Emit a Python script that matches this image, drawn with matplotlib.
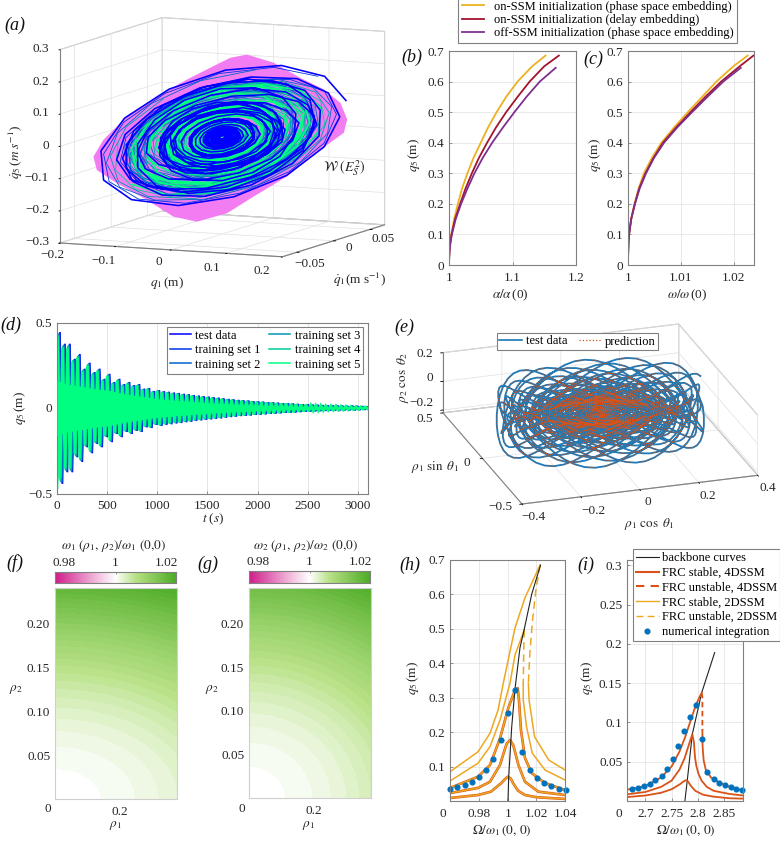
import numpy as np
import matplotlib
matplotlib.use('Agg')
import matplotlib.pyplot as plt
from matplotlib.colors import LinearSegmentedColormap
from matplotlib.lines import Line2D
from mpl_toolkits.mplot3d import proj3d
from mpl_toolkits.mplot3d.art3d import Poly3DCollection

plt.rcParams['font.family'] = ['Liberation Serif', 'DejaVu Serif']
plt.rcParams['mathtext.fontset'] = 'stix'
plt.rcParams['font.size'] = 9.5
plt.rcParams['axes.linewidth'] = 0.8
GREY = '#808080'; GRID = '#e0e0e0'; INK = '#262626'
W, H = 780, 842
fig = plt.figure(figsize=(7.8, 8.42), dpi=100)

# ---------- values ----------
# NOTE: the long trajectories of (a), (d), (e) cannot be read sample by sample, so they
# are reconstructions drawn from per-turn / per-peak amplitudes.
ORANGE, RED, PURPLE = '#EDB120', '#A2142F', '#7E2F8E'
FRC_RED, FRC_ORANGE, DOT_BLUE = '#D95319', '#EDA820', '#0072BD'
winter = ['#0000FF', '#0033E6', '#0066CC', '#0099B3', '#00CC99', '#00FF80']
train_labels = ['test data', 'training set 1', 'training set 2', 'training set 3', 'training set 4', 'training set 5']

# (a) surface outline and turn amplitudes
surf_q1 = [.0445,.0925,.1405,.1825,.2126,.2247,.2186,.1766,.1166,.0564,.0085,-.0456,-.0877,-.1357,-.1897,-.2258,-.2319,-.2139,-.1717,-.1177,-.0636,-.0157,.0144]
surf_qd5 = [.261,.241,.199,.168,.129,.079,.037,-.020,-.109,-.178,-.235,-.267,-.256,-.209,-.163,-.126,-.085,-.031,.046,.114,.172,.219,.248]
orbit_a1 = [.72,.71,.70,.68,.66,.64,.62,.60,.58,.55,.52,.49,.46,.43,.40,.37,.345,.32,.295,.27,.245,.225,.205,.185,.17,.155,.14,.125,.115,.105,.095,.086,.078,.07,.063,.057,.05,.045,.04,.035,.03,.026,.022]
orbit_a2 = [.32,.31,.30,.29,.28,.26,.24,.22,.2,.18,.16,.14,.12,.105,.09,.08,.07,.06,.05,.042,.036,.03,.025,.021,.018,.015,.012,.01,.009,.007,.006,.005,.005,.004,.004,.003,.003,.003,.002,.002,.002,.002,.002]
orbit_scale = [1.0, .97, .94, .91, .88, .85]
orbit_phase = [0.0, .5, 1.1, 1.9, 2.6, 3.4]
orbit_order = [1, 2, 3, 4, 5, 0]
orbit_width = [1.15, .6, .6, .6, .6, 1.2]
a_x_ticks = [-.2, -.1, 0, .1, .2]; a_y_ticks = [-.05, 0, .05]; a_z_ticks = [-.3, -.2, -.1, 0, .1, .2, .3]
a_x_labels = ['\u22120.2', '\u22120.1', '0', '0.1', '0.2']
a_y_labels = ['\u22120.05', '0', '0.05']
a_z_labels = ['\u22120.3', '\u22120.2', '\u22120.1', '0', '0.1', '0.2', '0.3']

# (b), (c)
q_on = [0,.025,.05,.075,.1,.15,.2,.25,.3,.35,.4,.45,.5,.55,.6,.65,.685]
q_off = [0,.025,.05,.075,.1,.15,.2,.25,.3,.35,.4,.45,.5,.55,.6,.645]
alpha_orange = [1,1.0002,1.0008,1.002,1.0036,1.008,1.014,1.0205,1.029,1.0385,1.05,1.0615,1.075,1.09,1.108,1.131,1.152]
alpha_red = [1,1.0002,1.0009,1.0022,1.004,1.0095,1.0175,1.026,1.036,1.047,1.06,1.074,1.09,1.108,1.127,1.15,1.173]
alpha_purple = [1,1.0003,1.001,1.0024,1.0045,1.0105,1.019,1.029,1.04,1.053,1.068,1.085,1.103,1.122,1.143,1.168]
omega_orange = [1,1.00001,1.00005,1.0001,1.0002,1.0006,1.0012,1.002,1.003,1.0045,1.0063,1.0087,1.0113,1.014,1.0167,1.0199,1.0226]
omega_red = [1,1.00001,1.00005,1.0001,1.0002,1.0006,1.0013,1.0021,1.0033,1.0048,1.0066,1.0091,1.0118,1.0146,1.0176,1.0211,1.0237]
omega_purple = [1,1.00001,1.00005,1.0001,1.0002,1.0006,1.0013,1.0022,1.0034,1.0049,1.0068,1.0093,1.0121,1.015,1.018,1.0213]

# (d) extrema of the beating decay, and the filled green core
spike_peaks = [.444,.376,.376,.288,.316,.23,.265,.21,.23,.171,.2,.152,.171,.14,.152,.134,.14,.113,.117,.099,
 .105,.098,.095,.09,.088,.083,.08,.076,.072,.069,.066,.063,.06,.056,.053,.05,.047,.045,.043,.04,.038,.036,.034,.032,.03,.028,.027,.025,.023,.022,.02,.018,.017,.016,.014,.013,.012,.011,.01,.009,.008,.007,.006,.005]
spike_trough_first = .50
train_scale = [1.0, .99, .98, .97, .96, .93]
train_shift = [25, 20, 15, 10, 5, 0]
train_width = [1.2, 1.2, 1.2, 1.4, 1.5, 1.9]
core_t = [0,100,200,300,400,500,700,1000,1500,2000,2500,3100]
core_amp = [.16,.14,.13,.12,.11,.105,.08,.054,.03,.015,.007,.003]

# (e) per-turn amplitudes
rho1_turn = [.34,.335,.33,.325,.32,.315,.31,.305,.30,.295,.29,.285,.28,.275,.27,.265,.26,.255,.25,.245,.24,.235,.23,.225,.22,.215,.21,.206,.202,.198,.194,.19,.186,.182,.178,.174,.17,.166,.162,.158,.154,.15,.146,.142,.138,.134,.13,.126,.122,.118,.114,.11,.106,.102,.098,.094,.09,.086,.082,.078,.074,.07,.066,.062,.058,.054,.05,.047,.044,.041,.038,.035,.032,.029,.026,.023,.02,.017,.014,.011,.008,.005]
rho2_turn = [.17,.165,.16,.155,.15,.145,.14,.135,.13,.125,.12,.116,.112,.108,.104,.1,.096,.092,.088,.085,.082,.079,.076,.073,.07,.067,.064,.061,.058,.056,.054,.052,.05,.048,.046,.044,.042,.04,.038,.036,.035,.034,.032,.03,.029,.028,.026,.025,.024,.023,.022,.021,.02,.019,.018,.017,.016,.015,.014,.013,.012,.012,.011,.01,.01,.009,.009,.008,.008,.007,.007,.006,.006,.005,.005,.004,.004,.004,.003,.003,.003,.002]
e_x_ticks = [-.4, -.2, 0, .2, .4]; e_y_ticks = [-.5, 0, .5]; e_z_ticks = [-.2, 0, .2]
e_x_labels = ['\u22120.4', '\u22120.2', '0', '0.2', '0.4']
e_y_labels = ['\u22120.5', '0', '0.5']
e_z_labels = ['\u22120.2', '0', '0.2']

# (f), (g): frequency shift, in thousandths, along each axis
rho1_nodes = [0,.02,.04,.06,.08,.10,.12,.14,.16,.18,.20,.22,.24,.26,.28,.30,.32,.34,.36,.376]
rho2_nodes = [0,.01,.02,.03,.04,.05,.06,.07,.08,.09,.10,.11,.12,.13,.14,.15,.16,.17,.18,.19,.20,.21,.22,.23,.24]
f_shift_rho1 = [0,.008,.031,.069,.124,.193,.278,.378,.494,.625,.772,.934,1.112,1.305,1.513,1.737,1.976,2.231,2.501,2.73]
f_shift_rho2 = [0,.033,.131,.294,.522,.816,1.175,1.6,2.09,2.64,3.27,3.95,4.70,5.52,6.40,7.35,8.36,9.44,10.58,11.79,13.06,14.40,15.80,17.27,18.81]
g_shift_rho1 = [0,.012,.049,.111,.197,.308,.444,.604,.788,.998,1.232,1.491,1.774,2.082,2.415,2.772,3.154,3.56,3.99,4.35]
g_shift_rho2 = [0,.029,.117,.263,.467,.73,1.05,1.43,1.87,2.37,2.92,3.53,4.2,4.93,5.72,6.57,7.48,8.44,9.46,10.54,11.68,12.88,14.13,15.45,16.82]
band_levels = [-.4, .4, 1.2, 2, 2.8, 3.6, 4.4, 5.2, 6, 6.8, 7.6, 8.4, 9.2, 10, 10.8, 11.6, 12.4, 13.2, 14, 14.8, 15.6, 16.4, 17.2, 18, 18.8, 19.6, 20.4, 21.2, 22]

# (h)
h_back_x = [1.0,1.0005,1.0026,1.0049,1.0084,1.0112,1.0166,1.0228]
h_back_y = [0,.07,.215,.325,.445,.495,.6,.685]
h1_x = [.9593,.979,.988,.9953,.998,.9998,1.002,1.0037,1.007,1.0119,1.02,1.04]
h1_y = [.0087,.0174,.027,.052,.064,.0706,.065,.051,.03,.0174,.011,.006]
h2_x = [.9593,.979,.9874,.9944,.997,.9991,1.0014,1.0037,1.0073,1.0119,1.0213,1.04]
h2_y = [.023,.038,.056,.1046,.14,.167,.177,.162,.1046,.056,.027,.0174]
h3_x = [.9593,.979,.9874,.9944,1.0002,1.0049,1.0068,1.0077,1.0091,1.0119,1.0166,1.026,1.04]
h3_y = [.038,.0706,.1046,.182,.27,.322,.328,.293,.206,.125,.081,.052,.032]
h4_up_x = [.9593,.979,.9874,.9944,1.0014,1.0049,1.0114]
h4_up_y = [.058,.11,.158,.235,.3425,.424,.497]
h4_dash_x = [1.0114,1.011,1.0107]
h4_dash_y = [.497,.424,.3425]
h4_low_x = [1.0107,1.0107,1.013,1.017,1.026,1.04]
h4_low_y = [.3425,.293,.216,.139,.09,.061]
h5_up_x = [.9593,.979,.9874,.993,.9967,1.0049,1.0119,1.0225]
h5_up_y = [.085,.143,.197,.264,.3425,.5025,.59,.6855]
h5_dash_x = [1.0225,1.0194,1.0171,1.0154,1.0143]
h5_dash_y = [.6855,.608,.52,.434,.3425]
h5_low_x = [1.0143,1.0148,1.0186,1.0286,1.04]
h5_low_y = [.3425,.293,.187,.119,.09]
h_dot_x = [.9593,.9644,.9696,.9747,.9796,.9848,.9897,.9949,.9998,1.0049,1.0101,1.0152,1.0201,1.0253,1.0304,1.0356,1.0405]
h_dot_y = [.0357,.0405,.0453,.0559,.0685,.0887,.1225,.1784,.2555,.3211,.1427,.0887,.0656,.0521,.0434,.0357,.0309]

# (i)
i_back_x = [2.7753,2.7798,2.7894,2.8073,2.832]
i_back_y = [0,.026,.085,.138,.189]
i1_x = [2.665,2.70,2.73,2.75,2.765,2.773,2.777,2.781,2.787,2.795,2.81,2.83,2.86,2.886]
i1_y = [.005,.007,.0105,.015,.021,.025,.0265,.025,.019,.013,.008,.0055,.0035,.003]
i2_x = [2.665,2.70,2.73,2.75,2.765,2.775,2.783,2.7894,2.7925,2.7945,2.797,2.801,2.807,2.817,2.83,2.86,2.886]
i2_y = [.0085,.0115,.018,.026,.04,.055,.072,.085,.075,.056,.045,.035,.026,.018,.013,.009,.007]
i3_up_x = [2.665,2.70,2.73,2.75,2.765,2.775,2.785,2.795,2.802,2.8073]
i3_up_y = [.0144,.019,.03,.044,.063,.08,.1,.12,.131,.1377]
i3_dash_x = [2.8073,2.8086,2.8086]
i3_dash_y = [.1377,.132,.09]
i3_low_x = [2.8086,2.809,2.811,2.815,2.825,2.84,2.86,2.886]
i3_low_y = [.09,.07,.052,.04,.03,.024,.018,.0135]
i_dot_x = [2.675,2.686,2.697,2.708,2.719,2.731,2.7415,2.752,2.763,2.774,2.785,2.796,2.807,2.818,2.83,2.8405,2.852,2.863,2.873,2.884]
i_dot_y = [.0148,.0165,.0191,.022,.0263,.0318,.0407,.053,.0695,.0886,.1068,.1225,.0792,.0369,.0284,.0233,.0199,.0174,.0157,.0136]

# ---------- helpers ----------
def px_text(x, y, s, **kw):
    kw.setdefault('ha', 'center'); kw.setdefault('va', 'center'); kw.setdefault('color', INK)
    return fig.text(x / W, 1 - y / H, s, **kw)

def ax_px(x0, y0, x1, y1):
    ax = fig.add_axes([x0 / W, 1 - y1 / H, (x1 - x0) / W, (y1 - y0) / H])
    for s in ax.spines.values():
        s.set_color(GREY); s.set_linewidth(0.8)
    ax.tick_params(direction='in', length=2, width=.6, color=GREY, labelcolor=INK, labelsize=9.5)
    ax.tick_params(axis='x', pad=5); ax.tick_params(axis='y', pad=3.5)
    return ax

def letter(x, y, s):
    px_text(x, y, s, fontsize=13, fontstyle='italic', color='#111111')

def style3d(ax):
    for a in (ax.xaxis, ax.yaxis, ax.zaxis):
        a.pane.set_facecolor('white'); a.pane.set_edgecolor(GREY); a.pane.set_linewidth(.8)
        a.line.set_color(GREY); a.line.set_linewidth(.8)
        a._axinfo['grid'].update(color=GRID, linewidth=.5)
        a._axinfo['tick'].update(inward_factor=.12, outward_factor=0, color=GREY)
        a._axinfo['tick']['linewidth'] = {True: .6, False: .5}
    ax.patch.set_alpha(0)

def fit3d(ax, p3d_a, px_a, p3d_b, px_b):
    for _ in range(3):
        fig.canvas.draw()
        pos = ax.get_position()
        w_px = pos.width * W; x0 = pos.x0 * W; y0 = pos.y0 * H
        def disp(p):
            X, Y, _z = proj3d.proj_transform(p[0], p[1], p[2], ax.get_proj())
            return ax.transData.transform((X, Y))
        da, db = disp(p3d_a), disp(p3d_b)
        ta = np.array([px_a[0], H - px_a[1]], float); tb = np.array([px_b[0], H - px_b[1]], float)
        s = np.linalg.norm(tb - ta) / np.linalg.norm(db - da)
        c = np.array([x0 + w_px / 2, y0 + w_px / 2])
        new_a = c + s * (da - c)
        c = c + (ta - new_a)
        nw = w_px * s
        ax.set_position([(c[0] - nw / 2) / W, (c[1] - nw / 2) / H, nw / W, nw / H])

def labels3d(ax, labels, positions, **kw):
    for lab, (x, y) in zip(labels, positions):
        px_text(x, y, lab, fontsize=9.5, **kw)

# ---------- (a) ----------
a3 = fig.add_axes([0.02, 0.6, 300 / W, 300 / H], projection='3d', proj_type='ortho', computed_zorder=False)
a3.view_init(elev=8, azim=-66)
a3.set_box_aspect((243, 251, 195))
a3.set_xlim(-.2, .2); a3.set_ylim(-.07, .07); a3.set_zlim(-.3, .3)
style3d(a3)
a3.set_xticks(a_x_ticks); a3.set_yticks(a_y_ticks); a3.set_zticks(a_z_ticks)
a3.set_xticklabels([]); a3.set_yticklabels([]); a3.set_zticklabels([])
a3.zaxis.set_ticks_position('lower')
verts = [list(zip(surf_q1, np.zeros(len(surf_q1)), surf_qd5))]
a3.add_collection3d(Poly3DCollection(verts, facecolor='#F27DF2', edgecolor='none', zorder=1))
for z, k in enumerate(orbit_order):
    pts = 14
    th = np.linspace(0, 2 * np.pi * len(orbit_a1), len(orbit_a1) * pts, endpoint=False) + orbit_phase[k]
    a1 = np.repeat(orbit_a1, pts) * orbit_scale[k]
    a2 = np.repeat(orbit_a2, pts) * orbit_scale[k]
    q = a1 * (.22 * np.cos(th) - .036 * np.sin(th)) + a2 * (.20 * np.cos(1.14 * th) - .02 * np.sin(1.14 * th))
    v = a1 * (.12 * np.cos(th) + .19 * np.sin(th)) + a2 * (.16 * np.cos(1.14 * th) + .17 * np.sin(1.14 * th))
    a3.plot(q, np.zeros_like(q), v, color=winter[k], lw=orbit_width[k], zorder=2 + z)
fit3d(a3, (-.2, -.07, -.3), (60, 243), (.2, .07, .3), (385, 32))
labels3d(a3, a_x_labels, [(52, 255), (104, 261), (159, 262), (212, 268), (262, 271)])
labels3d(a3, a_y_labels, [(310, 264), (349, 248), (383, 239)])
labels3d(a3, a_z_labels, [(49, 242), (49, 210), (49, 178), (49, 146), (49, 113), (49, 82), (49, 49)], ha='right')
px_text(167, 283, r'$q_1\,$(m)')
px_text(359, 280, r'$\dot{q}_1$(m s$^{-1}$)')
px_text(16, 152, r'$\dot{q}_5\,$($m$ $s^{-1}$)', rotation=90)
px_text(344, 168, r'$\mathcal{W}\ (E_S^2)$', fontsize=10)
letter(15, 25, '(a)')

# ---------- (b), (c) ----------
ab = ax_px(449, 51, 576, 265)
ab.plot(alpha_orange, q_on, color=ORANGE, lw=1.3)
ab.plot(alpha_red, q_on, color=RED, lw=1.3)
ab.plot(alpha_purple, q_off, color=PURPLE, lw=1.3)
ab.set_xlim(1, 1.2); ab.set_ylim(0, .7)
ab.set_xticks([1, 1.1, 1.2]); ab.set_xticklabels(['1', '1.1', '1.2'])
ab.set_yticks(np.arange(0, .71, .1)); ab.set_yticklabels(['0', '0.1', '0.2', '0.3', '0.4', '0.5', '0.6', '0.7'])
ab.grid(True, color=GRID, lw=.5)
ac = ax_px(628, 51, 754, 265)
ac.plot(omega_orange, q_on, color=ORANGE, lw=1.3)
ac.plot(omega_red, q_on, color=RED, lw=1.3)
ac.plot(omega_purple, q_off, color=PURPLE, lw=1.3)
ac.set_xlim(1, 1.0238); ac.set_ylim(0, .7)
ac.set_xticks([1, 1.01, 1.02]); ac.set_xticklabels(['1', '1.01', '1.02'])
ac.set_yticks(np.arange(0, .71, .1)); ac.set_yticklabels(['0', '0.1', '0.2', '0.3', '0.4', '0.5', '0.6', '0.7'])
ac.grid(True, color=GRID, lw=.5)
px_text(414, 155, r'$q_5\,$(m)', rotation=90); px_text(595, 155, r'$q_5\,$(m)', rotation=90)
px_text(510, 295, r'$\alpha/\alpha\,$(0)'); px_text(687, 295, r'$\omega/\omega\,$(0)')
letter(412, 57, '(b)'); letter(593, 59, '(c)')
leg = fig.legend(handles=[Line2D([], [], color=ORANGE, lw=1.3), Line2D([], [], color=RED, lw=1.3), Line2D([], [], color=PURPLE, lw=1.3)],
                 labels=['on-SSM initialization (phase space embedding)', 'on-SSM initialization (delay embedding)', 'off-SSM initialization (phase space embedding)'],
                 loc='upper left', bbox_to_anchor=(458 / W, 1 + 3 / H), borderaxespad=0, fontsize=9, fancybox=False,
                 edgecolor=GREY, framealpha=1, labelspacing=.1, handlelength=1.8, handletextpad=.75, borderpad=.3)
leg.get_frame().set_linewidth(.8)

# ---------- (d) ----------
ad = ax_px(57, 322.5, 368, 493.5)
n_spike = len(spike_peaks)
t_base = 5 + np.arange(n_spike) * 49.5
for k, col in enumerate(winter):
    tt = np.empty(2 * n_spike); yy = np.empty(2 * n_spike)
    tt[0::2] = t_base + train_shift[k]; tt[1::2] = t_base + train_shift[k] + 24.75
    yy[0::2] = spike_peaks; yy[1::2] = -np.array(spike_peaks)
    tt = np.r_[0.0, tt]; yy = np.r_[-spike_trough_first, yy]
    ad.plot(tt, yy * train_scale[k], color=col, lw=train_width[k], label=train_labels[k], solid_joinstyle='miter')
ad.fill_between(core_t, -np.array(core_amp), core_amp, color=winter[5], lw=0, zorder=3)
ad.set_xlim(0, 3100); ad.set_ylim(-.5, .5)
ad.set_xticks(np.arange(0, 3001, 500)); ad.set_yticks([-.5, 0, .5]); ad.set_yticklabels(['\u22120.5', '0', '0.5'])
ad.grid(True, axis='x', color=GRID, lw=.6)
leg = ad.legend(ncol=2, loc='upper right', bbox_to_anchor=(306 / 311, 167 / 171), borderaxespad=0, fontsize=9, fancybox=False,
                edgecolor=GREY, framealpha=1, labelspacing=.2, handlelength=1.7, handletextpad=.35, columnspacing=.65, borderpad=.25)
leg.get_frame().set_linewidth(.8)
leg.set_zorder(10)
for line in leg.get_lines():
    line.set_linewidth(1.1)
px_text(20, 408, r'$q_5\,$(m)', rotation=90)
px_text(213, 519, r'$t\ $($s$)')
letter(11, 325, '(d)')

# ---------- (e) ----------
e3 = fig.add_axes([0.5, 0.4, 300 / W, 300 / H], projection='3d', proj_type='ortho')
e3.view_init(elev=22, azim=-108)
e3.set_box_aspect((248, 256, 65))
e3.set_xlim(-.4, .4); e3.set_ylim(-.5, .5); e3.set_zlim(-.22, .2)
style3d(e3)
e3.set_xticks(e_x_ticks); e3.set_yticks(e_y_ticks); e3.set_zticks(e_z_ticks)
e3.set_xticklabels([]); e3.set_yticklabels([]); e3.set_zticklabels([])
pts = 60
th = np.linspace(0, 2 * np.pi * len(rho1_turn), len(rho1_turn) * pts, endpoint=False)
r1 = np.repeat(rho1_turn, pts); r2 = np.repeat(rho2_turn, pts)
ex, ey, ez = r1 * np.cos(th), r1 * np.sin(th), r2 * np.cos(2.78 * th)
e3.plot(ex, ey, ez, color='#1878B8', lw=1.3)
e3.plot(ex, ey, ez, color='#D95319', lw=.55, ls=(0, (1, 2)))
fit3d(e3, (-.4, -.5, -.22), (522, 504), (.4, .5, .2), (682, 327))
labels3d(e3, e_x_labels, [(533, 517), (593, 511), (648, 502), (708, 496), (768, 488)])
labels3d(e3, e_y_labels, [(500, 507), (467, 463), (425, 419)])
labels3d(e3, e_z_labels, [(433, 403), (433, 378), (433, 354)], ha='right')
px_text(403, 378, r'$\rho_2\ \cos\ \theta_2$', rotation=90)
px_text(435, 467, r'$\rho_1\ \sin\ \theta_1$')
px_text(649, 524, r'$\rho_1\ \cos\ \theta_1$')
letter(404, 327, '(e)')
leg = fig.legend(handles=[Line2D([], [], color='#1878B8', lw=1.2), Line2D([], [], color='#D95319', lw=.9, ls=':')],
                 labels=['test data', 'prediction'], ncol=2, loc='upper left', bbox_to_anchor=(497 / W, 1 - 333 / H),
                 borderaxespad=0, fontsize=9, fancybox=False, edgecolor=GREY, framealpha=1, handlelength=1.8,
                 handletextpad=.3, columnspacing=.9, borderpad=.2)
leg.get_frame().set_linewidth(.8)

# ---------- (f), (g) ----------
piyg = LinearSegmentedColormap.from_list('piyg5', [(0, '#D01C8B'), (.33, '#F1B6DA'), (.5, '#FFFFFF'), (.667, '#B8E186'), (1, '#4DAC26')], N=256)
VMIN, VMAX = -22, 22
def contour_panel(x0, x1, top, bot, sr1, sr2, cb_top, cb_bot):
    ax = ax_px(x0, top, x1, bot)
    Z = np.add.outer(np.array(sr2), np.array(sr1))
    cs = ax.contourf(rho1_nodes, rho2_nodes, Z, levels=band_levels, cmap=piyg, vmin=VMIN, vmax=VMAX, extend='max')
    cs.set_edgecolor('face'); cs.set_linewidth(.3)
    ax.set_xlim(0, .376); ax.set_ylim(0, .2405)
    ax.set_xticks([.2]); ax.set_xticklabels(['0.2'])
    ax.set_yticks([.05, .1, .15, .2]); ax.set_yticklabels(['0.05', '0.10', '0.15', '0.20'])
    ax.tick_params(length=0)
    for s in ax.spines.values():
        s.set_color('#cfcfcf')
    cb = ax_px(x0, cb_top, x1 - 1, cb_bot)
    grad = np.linspace(VMIN, VMAX, 256).reshape(1, -1)
    cb.imshow(grad, aspect='auto', cmap=piyg, vmin=VMIN, vmax=VMAX, extent=[.9763, 1.0237, 0, 1])
    cb.set_xlim(.9763, 1.0237)
    cb.set_yticks([])
    cb.set_xticks([.98, 1, 1.02]); cb.set_xticklabels(['0.98', '1', '1.02'])
    cb.xaxis.tick_top()
    cb.tick_params(axis='x', direction='in', length=1.5, pad=2)
    return ax
contour_panel(55, 177, 588, 799, f_shift_rho1, f_shift_rho2, 572, 583)
contour_panel(249, 371, 588, 798, g_shift_rho1, g_shift_rho2, 571, 583)
px_text(113, 546, r'$\omega_1\ (\rho_1,\,\rho_2)/\omega_1\ (0{,}0)$')
px_text(305, 546, r'$\omega_2\ (\rho_1,\,\rho_2)/\omega_2\ (0{,}0)$')
px_text(16, 690, r'$\rho_2$'); px_text(212, 690, r'$\rho_2$')
px_text(115, 826, r'$\rho_1$'); px_text(308, 826, r'$\rho_1$')
px_text(48, 809, '0'); px_text(242, 809, '0')
letter(15, 563, '(f)'); letter(208, 564, '(g)')

# ---------- (h) ----------
ah = ax_px(450, 560, 565, 801)
for xs, ys in [(h1_x, h1_y), (h2_x, h2_y), (h3_x, h3_y)]:
    ah.plot(xs, ys, color=FRC_RED, lw=1.9)
for xs, ys in [(h4_up_x, h4_up_y), (h4_low_x, h4_low_y), (h5_up_x, h5_up_y), (h5_low_x, h5_low_y), (h1_x, h1_y), (h2_x, h2_y), (h3_x, h3_y)]:
    ah.plot(xs, ys, color=FRC_ORANGE, lw=1.1)
for xs, ys in [(h4_dash_x, h4_dash_y), (h5_dash_x, h5_dash_y)]:
    ah.plot(xs, ys, color=FRC_ORANGE, lw=1.1, ls=(0, (5, 3)))
ah.plot(h_back_x, h_back_y, color='#222222', lw=.8)
ah.plot(h_dot_x, h_dot_y, ls='none', marker='o', ms=3.4, color=DOT_BLUE, clip_on=False)
ah.set_xlim(.9593, 1.04); ah.set_ylim(0, .7)
ah.set_xticks([.98, 1, 1.02, 1.04]); ah.set_xticklabels(['0.98', '1', '1.02', '1.04'])
ah.set_yticks(np.arange(.1, .71, .1)); ah.set_yticklabels(['0.1', '0.2', '0.3', '0.4', '0.5', '0.6', '0.7'])
ah.grid(True, color=GRID, lw=.5)
px_text(413, 678, r'$q_5\,$(m)', rotation=90)
px_text(502, 831, r'$\Omega/\omega_1\,(0,\,0)$')
px_text(443, 814, '0')
letter(410, 565, '(h)')

# ---------- (i) ----------
ai = ax_px(627, 560, 743, 801)
ai.plot(i_back_x, i_back_y, color='#222222', lw=.8)
for xs, ys in [(i1_x, i1_y), (i2_x, i2_y), (i3_up_x, i3_up_y), (i3_low_x, i3_low_y)]:
    ai.plot(xs, ys, color=FRC_RED, lw=1.3)
ai.plot(i3_dash_x, i3_dash_y, color=FRC_RED, lw=1.3, ls=(0, (3, 2)))
ai.plot(i_dot_x, i_dot_y, ls='none', marker='o', ms=3.4, color=DOT_BLUE, clip_on=False)
ai.set_xlim(2.665, 2.886); ai.set_ylim(0, .307)
ai.set_xticks([2.7, 2.75, 2.8, 2.85]); ai.set_xticklabels(['2.7', '2.75', '2.8', '2.85'])
ai.set_yticks([.05, .1, .15, .2, .25, .3]); ai.set_yticklabels(['0.05', '0.1', '0.15', '0.2', '0.25', '0.3'])
ai.grid(True, color=GRID, lw=.5)
px_text(587, 678, r'$q_5\,$(m)', rotation=90)
px_text(686, 831, r'$\Omega/\omega_1\,(0,\,0)$')
px_text(619, 814, '0')
letter(586, 565, '(i)')
leg = fig.legend(handles=[Line2D([], [], color='#222222', lw=.8), Line2D([], [], color=FRC_RED, lw=1.5),
                          Line2D([], [], color=FRC_RED, lw=1.5, ls=(0, (4, 3))), Line2D([], [], color=FRC_ORANGE, lw=1.0),
                          Line2D([], [], color=FRC_ORANGE, lw=1.0, ls=(0, (5, 3))), Line2D([], [], ls='none', marker='o', ms=3.4, color=DOT_BLUE)],
                 labels=['backbone curves', 'FRC stable, 4DSSM', 'FRC unstable, 4DSSM', 'FRC stable, 2DSSM', 'FRC unstable, 2DSSM', 'numerical integration'],
                 loc='upper left', bbox_to_anchor=(633 / W, 1 - 549 / H), borderaxespad=0, fontsize=9, fancybox=False,
                 edgecolor=GREY, framealpha=1, labelspacing=.22, handlelength=1.8, handletextpad=.25, borderpad=.25)
leg.get_frame().set_linewidth(.8)
leg.set_zorder(20)

fig.savefig('out.png', dpi=100)
